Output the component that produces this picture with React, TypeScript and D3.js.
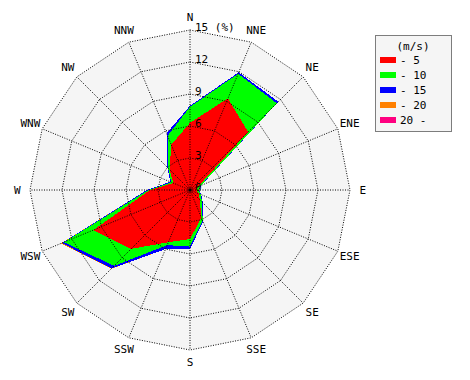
import React from "react";
import * as d3 from "d3";

const directions = ["N", "NNE", "NE", "ENE", "E", "ESE", "SE", "SSE", "S", "SSW", "SW", "WSW", "W", "WNW", "NW", "NNW"];
// cumulative frequency (%) per speed class
const upTo5 = [6.3, 9.3, 7.7, 0.8, 0.6, 0.9, 1.3, 2.8, 4.6, 5.3, 7.8, 9.8, 3.75, 1.7, 2.7, 4.6];
const upTo10 = [7.8, 11.8, 11.5, 1.1, 0.8, 1.1, 1.6, 3.1, 5.3, 5.6, 10.05, 12.8, 3.9, 1.9, 2.9, 5.5];
const upTo15 = [7.9, 11.95, 11.7, 1.15, 0.85, 1.15, 1.7, 3.2, 5.55, 6.0, 10.4, 13.0, 4.05, 2.0, 3.0, 5.75];
const upTo20 = [7.9, 11.95, 11.7, 1.15, 0.85, 1.15, 1.7, 3.2, 5.55, 6.0, 10.45, 13.1, 4.05, 2.0, 3.0, 5.75];
const over20 = [7.9, 11.95, 11.7, 1.15, 0.85, 1.15, 1.7, 3.2, 5.55, 6.0, 10.45, 13.1, 4.05, 2.0, 3.0, 5.75];
const ringTicks = [0, 3, 6, 9, 12, 15];
const legendLabels = ["- 5", "- 10", "- 15", "- 20", "20 -"];
const legendColors = ["#ff0000", "#00ff00", "#0000ff", "#ff8000", "#ff0080"];

export default function App() {
  const cx = 190, cy = 190, R = 160;
  const r = d3.scaleLinear().domain([0, 15]).range([0, R]);
  const ang = (i: number) => (i * 2 * Math.PI) / directions.length;
  const pt = (i: number, v: number): [number, number] => [cx + r(v) * Math.sin(ang(i)), cy - r(v) * Math.cos(ang(i))];
  const line = d3.line<[number, number]>().curve(d3.curveLinearClosed);
  const series = [over20, upTo20, upTo15, upTo10, upTo5];
  const colors = ["#ff0080", "#ff8000", "#0000ff", "#00ff00", "#ff0000"];
  const font = "'DejaVu Sans Mono', monospace";
  const ringPath = (v: number) => line(directions.map((_, i) => pt(i, v))) as string;

  return (
    <svg width={470} height={380} style={{ position: "absolute", left: 0, top: 0, background: "#fff" }}>
      <path d={ringPath(15)} fill="#f5f5f5" />
      {series.map((s, k) => (
        <path key={k} d={line(s.map((v, i) => pt(i, v))) as string} fill={colors[k]} shapeRendering="crispEdges" />
      ))}
      {ringTicks.filter((t) => t > 0).map((t) => (
        <path key={t} d={ringPath(t)} fill="none" stroke="#000" strokeWidth={1} strokeDasharray="1,1.5" />
      ))}
      {directions.map((d, i) => {
        const [x, y] = pt(i, 15);
        return <line key={d} x1={cx} y1={cy} x2={x} y2={y} stroke="#000" strokeWidth={1} strokeDasharray="1,1.5" />;
      })}
      <circle cx={cx} cy={cy} r={1.8} fill="#000" />
      {ringTicks.map((t) => (
        <text key={t} x={cx + 5} y={cy - r(t) + 1} fontFamily={font} fontSize={11} fill="#000">
          {t === 15 ? "15 (%)" : String(t)}
        </text>
      ))}
      {directions.map((d, i) => {
        const [x, y] = pt(i, 16.2);
        return (
          <text key={d} x={x} y={y} textAnchor="middle" dominantBaseline="central" fontFamily={font} fontSize={11} fill="#000">
            {d}
          </text>
        );
      })}
      <g>
        <rect x={375.5} y={35.5} width={76} height={96} fill="#f5f5f5" stroke="#000" strokeDasharray="1,1" />
        <text x={413} y={50} textAnchor="middle" fontFamily={font} fontSize={11}>(m/s)</text>
        {legendLabels.map((l, i) => (
          <g key={l}>
            <rect x={380} y={57 + i * 15} width={16} height={6} fill={legendColors[i]} />
            <text x={400} y={64 + i * 15} fontFamily={font} fontSize={11}>{l}</text>
          </g>
        ))}
      </g>
    </svg>
  );
}
